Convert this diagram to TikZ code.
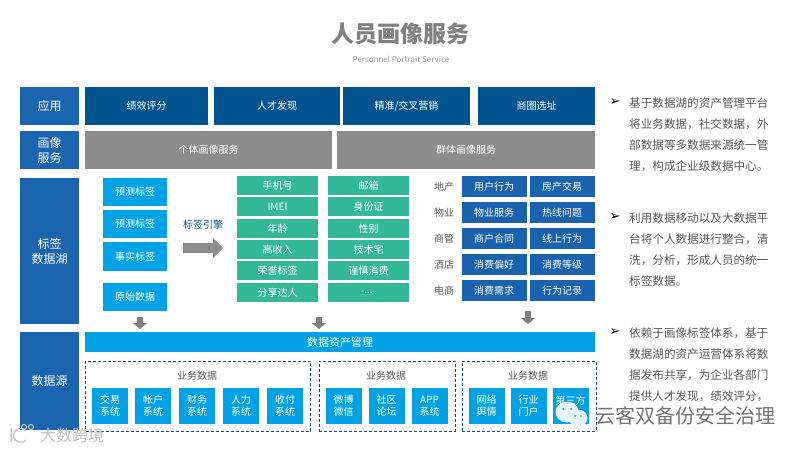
\documentclass[tikz,border=0pt]{standalone}
\usepackage{fontspec}
\usepackage{xcolor}
\usepackage{tikz}
\setmainfont{Noto Sans CJK SC}
\newfontfamily\bulletfont{DejaVu Sans}
\usetikzlibrary{arrows.meta, positioning, calc, shapes.geometric}
\definecolor{layerblue}{HTML}{1A64B0}
\definecolor{appblue}{HTML}{00558F}
\definecolor{svcgrey}{HTML}{8C8C8C}
\definecolor{skyblue}{HTML}{00A2E6}
\definecolor{taggreen}{HTML}{33B996}
\definecolor{cellblue}{HTML}{1A62AE}
\definecolor{dashnavy}{HTML}{1F4E79}
\definecolor{textgrey}{HTML}{595959}
\definecolor{bubble}{HTML}{E6F4FA}

\begin{document}
\begin{tikzpicture}[
    x=1pt, y=-1pt,
    box/.style={inner sep=0pt, outer sep=0pt, text=white, align=center},
    layer/.style={box, fill=layerblue, minimum width=59pt, font=\fontsize{12}{15}\selectfont},
    app/.style={box, fill=appblue, minimum height=38pt, font=\fontsize{10}{12}\selectfont},
    svc/.style={box, fill=svcgrey, minimum height=38pt, font=\fontsize{10}{12}\selectfont},
    tagbox/.style={box, fill=skyblue, minimum width=64pt, minimum height=28pt, font=\fontsize{10}{12}\selectfont},
    tagcell/.style={box, fill=taggreen, minimum width=81pt, minimum height=19pt, font=\fontsize{10}{12}\selectfont},
    cell/.style={box, fill=cellblue, minimum width=65pt, minimum height=21pt, font=\fontsize{10}{12}\selectfont},
    sector/.style={text=textgrey, inner sep=0pt, font=\fontsize{10}{12}\selectfont},
    srcbox/.style={box, fill=skyblue, minimum width=36pt, minimum height=36pt, font=\fontsize{10}{12}\selectfont},
    srcgroup/.style={draw=dashnavy, densely dashed, line width=0.7pt, inner sep=0pt, minimum height=70pt},
    grouptitle/.style={text=textgrey, inner sep=0pt, font=\fontsize{10}{12}\selectfont},
    para/.style={text=textgrey, inner sep=0pt, anchor=north west, align=left, font=\fontsize{11.6}{21}\selectfont},
    bulletmark/.style={inner sep=0pt, font=\bulletfont\fontsize{13}{15}\selectfont},
    bigarr/.style={draw=svcgrey, line width=10pt, -{Triangle[length=10pt, width=20pt, fill=svcgrey]}},
    arr/.style={draw=gray, line width=6pt, -{Triangle[length=6pt, width=14pt, fill=gray]}},
]
\useasboundingbox (0,0) rectangle (800,450);

% title
\node[inner sep=0pt, text=gray, font=\fontsize{23}{27}\selectfont\bfseries] (title) at (400.5,34) {人员画像服务};
\node[inner sep=0pt, text=black!40, font=\fontsize{8}{10}\selectfont] (subtitle) at (401,59) {Personnel Portrait Service};

% left layers
\node[layer, minimum height=38pt] (lapp) at (49.5,106) {应用};
\node[layer, minimum height=38pt] (lsvc) at (49.5,150) {画像\\服务};
\node[layer, minimum height=146pt] (llake) at (49.5,251) {标签\\数据湖};
\node[layer, minimum height=98pt] (lsrc) at (49.5,381) {数据源};

% applications
\node[app, minimum width=123pt] (perf) at (146.5,106) {绩效评分};
\node[app, minimum width=126pt, right=6pt of perf] (talent) {人才发现};
\node[app, minimum width=127pt, right=3pt of talent] (market) {精准/交叉营销};
\node[app, minimum width=117pt, right=8pt of market] (site) {商圈选址};

% portrait services
\node[svc, minimum width=247pt] (single) at (208.5,150) {个体画像服务};
\node[svc, minimum width=258pt, right=5pt of single] (crowd) {群体画像服务};

% tag boxes
\node[tagbox] (pred1) at (135,192) {预测标签};
\node[tagbox, below=4pt of pred1] (pred2) {预测标签};
\node[tagbox, minimum height=29pt, below=4pt of pred2] (fact) {事实标签};
\node[tagbox, below=12pt of fact] (raw) {原始数据};

% tag engine
\node[inner sep=0pt, text=appblue, font=\fontsize{10}{12}\selectfont] (engine) at (203,225) {标签引擎};
\coordinate (enginea) at (183,248);
\coordinate (engineb) at (223,248);
\draw[bigarr] (enginea) -- (engineb);

% green tags
\node[tagcell] (phone) at (277.5,185.5) {手机号};
\node[tagcell, below=2pt of phone] (imei) {IMEI};
\node[tagcell, below=3pt of imei] (age) {年龄};
\node[tagcell, below=2pt of age] (income) {高收入};
\node[tagcell, below=2pt of income] (honor) {荣誉标签};
\node[tagcell, below=3pt of honor] (share) {分享达人};
\node[tagcell, right=10pt of phone] (mail) {邮箱};
\node[tagcell, below=2pt of mail] (idcard) {身份证};
\node[tagcell, below=3pt of idcard] (sex) {性别};
\node[tagcell, below=2pt of sex] (geek) {技术宅};
\node[tagcell, below=2pt of geek] (care) {谨慎消费};
\node[tagcell, below=3pt of care] (more) {...};

% sector cells
\node[cell] (c11) at (494,186.5) {用户行为};
\node[cell, right=3pt of c11] (c12) {房产交易};
\node[cell, below=5pt of c11] (c21) {物业服务};
\node[cell, right=3pt of c21] (c22) {热线问题};
\node[cell, below=5pt of c21] (c31) {商户合同};
\node[cell, right=3pt of c31] (c32) {线上行为};
\node[cell, below=5pt of c31] (c41) {消费偏好};
\node[cell, right=3pt of c41] (c42) {消费等级};
\node[cell, below=5pt of c41] (c51) {消费需求};
\node[cell, right=3pt of c51] (c52) {行为记录};
\node[sector] (d1) at (444,187) {地产};
\node[sector] (d2) at (444,213) {物业};
\node[sector] (d3) at (444,239) {商管};
\node[sector] (d4) at (444,265) {酒店};
\node[sector] (d5) at (444,291) {电商};

% asset bar
\node[box, fill=skyblue, minimum width=510pt, minimum height=20pt, font=\fontsize{11}{13}\selectfont] (asset) at (340,342) {数据资产管理};

% down arrows
\coordinate (a1) at (140,317);
\coordinate (a2) at (319,317);
\coordinate (a3) at (528,311);
\draw[arr] (a1) -- ++(0,12);
\draw[arr] (a2) -- ++(0,12);
\draw[arr] (a3) -- ++(0,13);

% data sources
\node[srcgroup, minimum width=225pt] (g1) at (198,396) {};
\node[srcgroup, minimum width=136pt] (g2) at (387,396) {};
\node[srcgroup, minimum width=134pt] (g3) at (529,396) {};
\node[grouptitle] (t1) at (197,376) {业务数据};
\node[grouptitle] (t2) at (386,376) {业务数据};
\node[grouptitle] (t3) at (528,376) {业务数据};
\node[srcbox] (s1) at (110,406) {交易\\系统};
\node[srcbox, right=7pt of s1] (s2) {帐户\\系统};
\node[srcbox, right=8pt of s2] (s3) {财务\\系统};
\node[srcbox, right=8pt of s3] (s4) {人力\\系统};
\node[srcbox, right=8pt of s4] (s5) {收付\\系统};
\node[srcbox] (s6) at (343.5,406) {微博\\微信};
\node[srcbox, right=7pt of s6] (s7) {社区\\论坛};
\node[srcbox, right=7pt of s7] (s8) {APP\\系统};
\node[srcbox] (s9) at (486.5,406) {网络\\舆情};
\node[srcbox, right=6pt of s9] (s10) {行业\\门户};
\node[srcbox, right=6pt of s10] (s11) {第三方\\~};

% right text
\node[bulletmark] (b1) at (615,102) {➢};
\node[para] (p1) at (629,97.5) {基于数据湖的资产管理平台\\将业务数据，社交数据，外\\部数据等多数据来源统一管\\理，构成企业级数据中心。};
\node[bulletmark] (b2) at (615,217) {➢};
\node[para] (p2) at (629,212.5) {利用数据移动以及大数据平\\台将个人数据进行整合，清\\洗，分析，形成人员的统一\\标签数据。};
\node[bulletmark] (b3) at (615,332) {➢};
\node[para] (p3) at (629,327.5) {依赖于画像标签体系，基于\\数据湖的资产运营体系将数\\据发布共享，为企业各部门\\提供人才发现，绩效评分，};

% watermarks
\fill[bubble, draw=white, line width=0.8pt] (567,412) ellipse (11pt and 10pt);
\fill[bubble, draw=white, line width=0.8pt] (578,418) ellipse (9pt and 8pt);
\fill[skyblue] (563,409) circle (1pt) (571,409) circle (1pt) (575,416) circle (0.8pt) (581,416) circle (0.8pt);
\node[inner sep=0pt, anchor=west, text=black!55, font=\fontsize{20}{22}\selectfont] (mark) at (595,416) {云客双备份安全治理};
\draw[black!20, line width=1.5pt] (11,428) -- (11,442) (26,431) arc (40:320:7pt and 7pt);
\draw[black!20, line width=1pt] (24,427) circle (2.5pt) (31,427) circle (2.5pt);
\node[inner sep=0pt, anchor=west, text=black!25, font=\fontsize{16}{18}\selectfont] (markb) at (40,435) {大数跨境};
\end{tikzpicture}
\end{document}
